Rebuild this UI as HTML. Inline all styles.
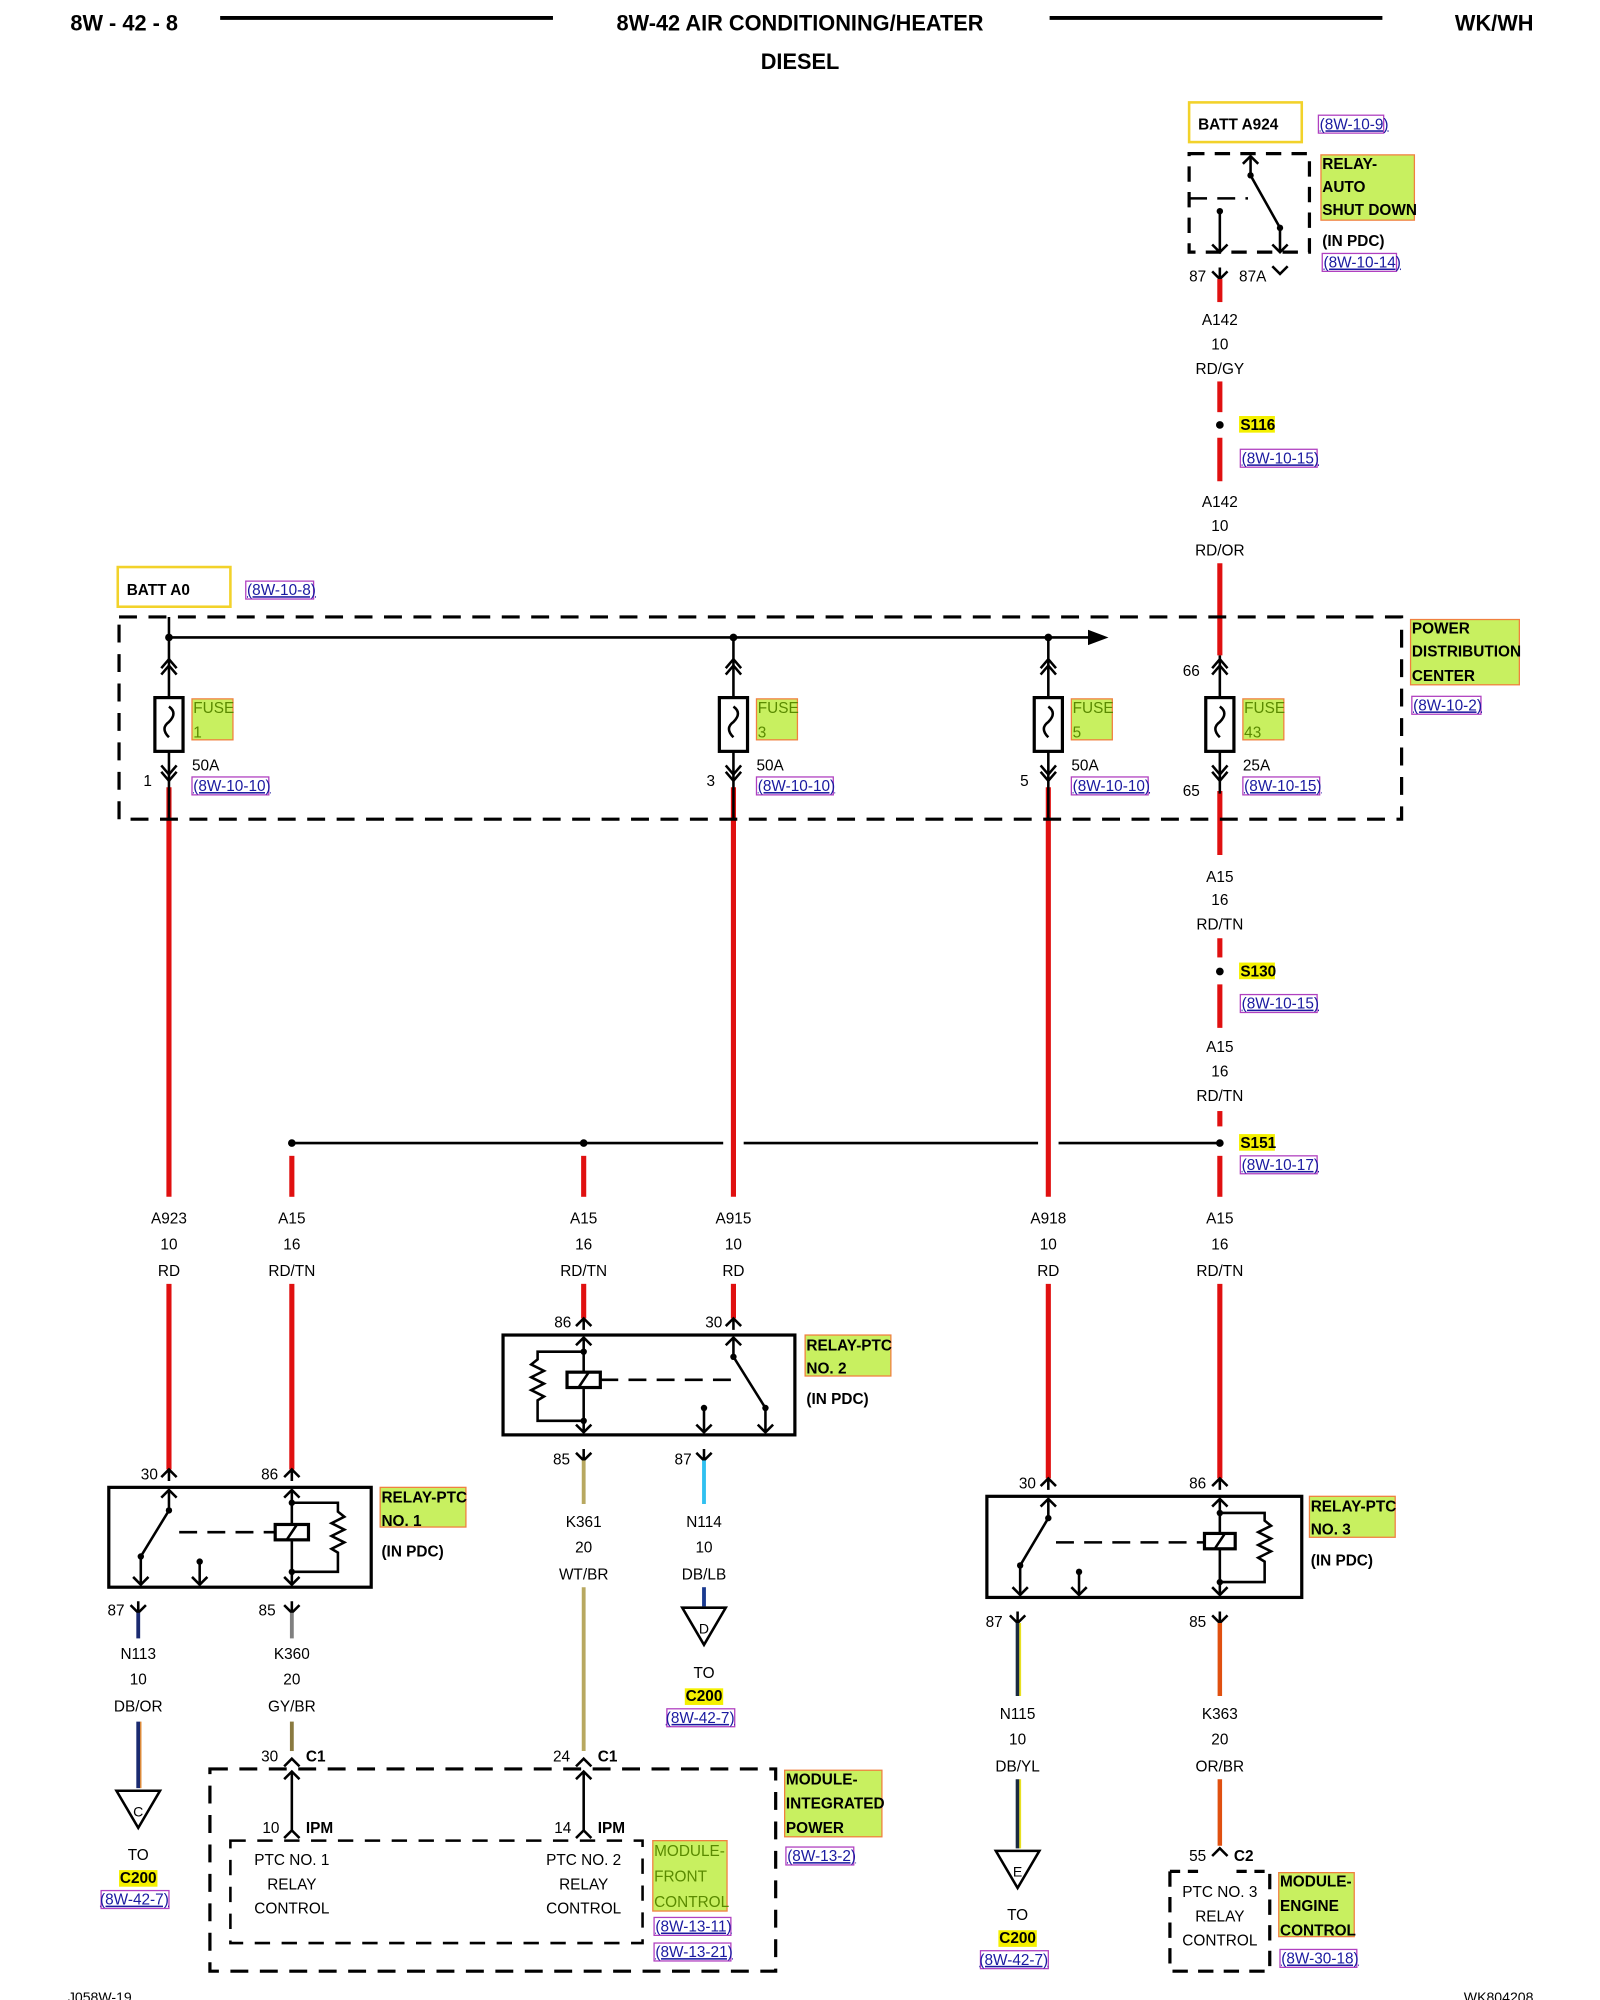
<!DOCTYPE html>
<html><head><meta charset="utf-8"><style>
html,body{margin:0;padding:0;background:#fff;}
svg{display:block}
text{font-family:"Liberation Sans",sans-serif;font-size:12px;fill:#000}
.b{font-weight:bold}
.c{text-anchor:middle}
.r{text-anchor:end}
.ref{fill:#1a1aa0;text-decoration:underline}
.fz{fill:#5a8a00}
</style></head><body>
<svg width="1600" height="2000" viewBox="0 0 1250 1562.5" xmlns="http://www.w3.org/2000/svg">
<defs>
<path id="fu" d="M-6,6 L0,0 L6,6 M0,0 V9" fill="none" stroke="#000" stroke-width="2"/>
<path id="md" d="M-6,-6 L0,0 L6,-6 M0,0 V-9" fill="none" stroke="#000" stroke-width="2"/>
<path id="dup" d="M-6,5 L0,-2 L6,5 M-6,10 L0,3 L6,10" fill="none" stroke="#000" stroke-width="2"/>
<path id="ddn" d="M-6,-5 L0,2 L6,-5 M-6,-10 L0,-3 L6,-10" fill="none" stroke="#000" stroke-width="2"/>
<path id="au" d="M-6,6 L0,0 L6,6" fill="none" stroke="#000" stroke-width="2"/>
<path id="ad" d="M-6,-6 L0,0 L6,-6" fill="none" stroke="#000" stroke-width="2"/>
</defs>

<!-- header -->
<text x="55" y="24" class="b" style="font-size:17px">8W - 42 - 8</text>
<line x1="172" y1="14" x2="432" y2="14" stroke="#000" stroke-width="3"/>
<text x="625" y="24" class="b c" style="font-size:17px">8W-42 AIR CONDITIONING/HEATER</text>
<text x="625" y="54" class="b c" style="font-size:17px">DIESEL</text>
<line x1="820" y1="14" x2="1080" y2="14" stroke="#000" stroke-width="3"/>
<text x="1198" y="24" class="b r" style="font-size:17px">WK/WH</text>

<!-- ASD relay -->
<rect x="929" y="80" width="88" height="31" fill="none" stroke="#f2d22a" stroke-width="2"/>
<text x="936" y="101" class="b">BATT A924</text>
<rect x="1030" y="90" width="51" height="14" fill="none" stroke="#b040c0"/>
<text x="1031" y="101" class="ref">(8W-10-9)</text>
<rect x="929" y="120" width="94" height="77" fill="none" stroke="#000" stroke-width="2.5" stroke-dasharray="12,8"/>
<line x1="929" y1="155" x2="975" y2="155" stroke="#000" stroke-width="2" stroke-dasharray="14,8"/>
<path d="M977,122 V137 L1000,178 V197 M953,165 V197" fill="none" stroke="#000" stroke-width="2"/>
<use href="#au" x="977" y="122"/><use href="#ad" x="953" y="197"/><use href="#ad" x="1000" y="197"/>
<circle cx="977" cy="137" r="2.5"/><circle cx="1000" cy="178" r="2.5"/><circle cx="953" cy="165" r="2.5"/>
<rect x="1032" y="121" width="73" height="51" fill="#c8f060" stroke="#f08040"/>
<text x="1033" y="132" class="b">RELAY-</text><text x="1033" y="150" class="b">AUTO</text><text x="1033" y="168" class="b">SHUT DOWN</text>
<text x="1033" y="192" class="b">(IN PDC)</text>
<rect x="1033" y="198" width="58" height="14" fill="none" stroke="#b040c0"/>
<text x="1034" y="209" class="ref">(8W-10-14)</text>
<text x="929" y="220">87</text><use href="#md" x="953" y="218"/>
<text x="968" y="220">87A</text><use href="#ad" x="1000" y="214"/>

<!-- top right wire -->
<g stroke="#e01010" stroke-width="4">
<line x1="953" y1="218" x2="953" y2="236"/><line x1="953" y1="298" x2="953" y2="322"/><line x1="953" y1="342" x2="953" y2="376"/><line x1="953" y1="440" x2="953" y2="512"/>
<line x1="953" y1="618" x2="953" y2="668"/><line x1="953" y1="733" x2="953" y2="748"/><line x1="953" y1="769" x2="953" y2="803"/><line x1="953" y1="868" x2="953" y2="880"/><line x1="953" y1="1003" x2="953" y2="1155"/>
<line x1="132" y1="615" x2="132" y2="935"/><line x1="573" y1="615" x2="573" y2="935"/><line x1="819" y1="615" x2="819" y2="935"/>
<line x1="228" y1="903" x2="228" y2="935"/><line x1="456" y1="903" x2="456" y2="935"/><line x1="953" y1="903" x2="953" y2="935"/>
<line x1="132" y1="1003" x2="132" y2="1148"/><line x1="228" y1="1003" x2="228" y2="1148"/><line x1="456" y1="1003" x2="456" y2="1030"/><line x1="573" y1="1003" x2="573" y2="1030"/><line x1="819" y1="1003" x2="819" y2="1155"/>
</g>
<g class="c">
<text x="953" y="254" class="c">A142</text><text x="953" y="273" class="c">10</text><text x="953" y="292" class="c">RD/GY</text>
<text x="953" y="396" class="c">A142</text><text x="953" y="415" class="c">10</text><text x="953" y="434" class="c">RD/OR</text>
<text x="953" y="689" class="c">A15</text><text x="953" y="707" class="c">16</text><text x="953" y="726" class="c">RD/TN</text>
<text x="953" y="822" class="c">A15</text><text x="953" y="841" class="c">16</text><text x="953" y="860" class="c">RD/TN</text>
</g>
<circle cx="953" cy="332" r="3"/><rect x="968" y="325" width="28" height="13" fill="#f4f000"/><text x="969" y="336" class="b">S116</text>
<rect x="969" y="351" width="60" height="14" fill="none" stroke="#b040c0"/><text x="970" y="362" class="ref">(8W-10-15)</text>
<circle cx="953" cy="759" r="3"/><rect x="968" y="752" width="28" height="13" fill="#f4f000"/><text x="969" y="763" class="b">S130</text>
<rect x="969" y="777" width="60" height="14" fill="none" stroke="#b040c0"/><text x="970" y="788" class="ref">(8W-10-15)</text>
<circle cx="953" cy="893" r="3"/><rect x="968" y="886" width="28" height="13" fill="#f4f000"/><text x="969" y="897" class="b">S151</text>
<rect x="969" y="903" width="60" height="14" fill="none" stroke="#b040c0"/><text x="970" y="914" class="ref">(8W-10-17)</text>

<!-- horizontal splice line -->
<path d="M228,893 H565 M581,893 H811 M827,893 H953" stroke="#000" stroke-width="2"/>
<circle cx="228" cy="893" r="3"/><circle cx="456" cy="893" r="3"/>

<!-- PDC -->
<rect x="92" y="443" width="88" height="31" fill="none" stroke="#f2d22a" stroke-width="2"/>
<text x="99" y="465" class="b">BATT A0</text>
<rect x="192" y="454" width="53" height="14" fill="none" stroke="#b040c0"/><text x="193" y="465" class="ref">(8W-10-8)</text>
<rect x="93" y="482" width="1002" height="158" fill="none" stroke="#000" stroke-width="2.5" stroke-dasharray="14,9"/>
<line x1="132" y1="498" x2="852" y2="498" stroke="#000" stroke-width="2"/>
<path d="M850,492 L866,498 L850,504 Z"/>
<circle cx="132" cy="498" r="3"/><circle cx="573" cy="498" r="3"/><circle cx="819" cy="498" r="3"/>
<g stroke="#000" stroke-width="2" fill="none">
<path d="M132,482 V545 M132,587 V640"/><path d="M573,498 V545 M573,587 V640"/><path d="M819,498 V545 M819,587 V640"/><path d="M953,512 V545 M953,587 V620"/>
<rect x="121" y="545" width="22" height="42" stroke-width="2.5"/><rect x="562" y="545" width="22" height="42" stroke-width="2.5"/><rect x="808" y="545" width="22" height="42" stroke-width="2.5"/><rect x="942" y="545" width="22" height="42" stroke-width="2.5"/>
<path d="M132,552 q7,5 0,12 q-7,5 0,12"/><path d="M573,552 q7,5 0,12 q-7,5 0,12"/><path d="M819,552 q7,5 0,12 q-7,5 0,12"/><path d="M953,552 q7,5 0,12 q-7,5 0,12"/>
</g>
<use href="#dup" x="132" y="517"/><use href="#dup" x="573" y="517"/><use href="#dup" x="819" y="517"/><use href="#dup" x="953" y="517"/>
<use href="#ddn" x="132" y="608"/><use href="#ddn" x="573" y="608"/><use href="#ddn" x="819" y="608"/><use href="#ddn" x="953" y="608"/>
<text x="112" y="614">1</text><text x="552" y="614">3</text><text x="797" y="614">5</text><text x="924" y="528">66</text><text x="924" y="622">65</text>
<g>
<rect x="150" y="546" width="32" height="32" fill="#c8f060" stroke="#f08040"/><text x="151" y="557" class="fz">FUSE</text><text x="151" y="576" class="fz">1</text>
<rect x="591" y="546" width="32" height="32" fill="#c8f060" stroke="#f08040"/><text x="592" y="557" class="fz">FUSE</text><text x="592" y="576" class="fz">3</text>
<rect x="837" y="546" width="32" height="32" fill="#c8f060" stroke="#f08040"/><text x="838" y="557" class="fz">FUSE</text><text x="838" y="576" class="fz">5</text>
<rect x="971" y="546" width="32" height="32" fill="#c8f060" stroke="#f08040"/><text x="972" y="557" class="fz">FUSE</text><text x="972" y="576" class="fz">43</text>
</g>
<text x="150" y="602">50A</text><text x="591" y="602">50A</text><text x="837" y="602">50A</text><text x="971" y="602">25A</text>
<rect x="150" y="607" width="60" height="14" fill="none" stroke="#b040c0"/><text x="151" y="618" class="ref">(8W-10-10)</text>
<rect x="591" y="607" width="60" height="14" fill="none" stroke="#b040c0"/><text x="592" y="618" class="ref">(8W-10-10)</text>
<rect x="837" y="607" width="60" height="14" fill="none" stroke="#b040c0"/><text x="838" y="618" class="ref">(8W-10-10)</text>
<rect x="971" y="607" width="60" height="14" fill="none" stroke="#b040c0"/><text x="972" y="618" class="ref">(8W-10-15)</text>
<rect x="1102" y="484" width="85" height="51" fill="#c8f060" stroke="#f08040"/>
<text x="1103" y="495" class="b">POWER</text><text x="1103" y="513" class="b">DISTRIBUTION</text><text x="1103" y="532" class="b">CENTER</text>
<rect x="1103" y="544" width="54" height="14" fill="none" stroke="#b040c0"/><text x="1104" y="555" class="ref">(8W-10-2)</text>

<!-- wire labels row -->
<g>
<text x="132" y="956" class="c">A923</text><text x="132" y="976" class="c">10</text><text x="132" y="997" class="c">RD</text>
<text x="228" y="956" class="c">A15</text><text x="228" y="976" class="c">16</text><text x="228" y="997" class="c">RD/TN</text>
<text x="456" y="956" class="c">A15</text><text x="456" y="976" class="c">16</text><text x="456" y="997" class="c">RD/TN</text>
<text x="573" y="956" class="c">A915</text><text x="573" y="976" class="c">10</text><text x="573" y="997" class="c">RD</text>
<text x="819" y="956" class="c">A918</text><text x="819" y="976" class="c">10</text><text x="819" y="997" class="c">RD</text>
<text x="953" y="956" class="c">A15</text><text x="953" y="976" class="c">16</text><text x="953" y="997" class="c">RD/TN</text>
</g>

<!-- PTC2 relay -->
<rect x="393" y="1043" width="228" height="78" fill="none" stroke="#000" stroke-width="2.5"/>
<use href="#fu" x="456" y="1030"/><use href="#fu" x="573" y="1030"/><text x="433" y="1037">86</text><text x="551" y="1037">30</text>
<g stroke="#000" stroke-width="2" fill="none">
<path d="M456,1045 V1072 M456,1084 V1119"/><rect x="443" y="1072" width="26" height="12" stroke-width="2.5"/><path d="M452,1084 L460,1072"/>
<path d="M456,1056 H420 V1062 l-5,4 l10,5 l-10,5 l10,5 l-10,5 l10,5 l-5,3 V1110 H456"/>
<path d="M469,1078 H572" stroke-dasharray="14,8"/>
<path d="M573,1045 V1060 L598,1100 V1119 M550,1100 V1119"/>
</g>
<use href="#au" x="456" y="1045"/><use href="#au" x="573" y="1045"/><use href="#ad" x="456" y="1119"/><use href="#ad" x="550" y="1119"/><use href="#ad" x="598" y="1119"/>
<circle cx="456" cy="1056" r="2.5"/><circle cx="456" cy="1110" r="2.5"/><circle cx="573" cy="1060" r="2.5"/><circle cx="598" cy="1100" r="2.5"/><circle cx="550" cy="1100" r="2.5"/>
<rect x="629" y="1043" width="67" height="32" fill="#c8f060" stroke="#f08040"/><text x="630" y="1055" class="b">RELAY-PTC</text><text x="630" y="1073" class="b">NO. 2</text>
<text x="630" y="1097" class="b">(IN PDC)</text>
<text x="432" y="1144">85</text><use href="#md" x="456" y="1141"/><text x="527" y="1144">87</text><use href="#md" x="550" y="1141"/>
<line x1="456" y1="1141" x2="456" y2="1175" stroke="#b8a860" stroke-width="3"/><line x1="456" y1="1240" x2="456" y2="1368" stroke="#b8a860" stroke-width="3"/>
<line x1="550" y1="1141" x2="550" y2="1175" stroke="#30c0f0" stroke-width="3"/><line x1="550" y1="1240" x2="550" y2="1255" stroke="#1a3a90" stroke-width="3"/>
<text x="456" y="1193" class="c">K361</text><text x="456" y="1213" class="c">20</text><text x="456" y="1234" class="c">WT/BR</text>
<text x="550" y="1193" class="c">N114</text><text x="550" y="1213" class="c">10</text><text x="550" y="1234" class="c">DB/LB</text>
<path d="M533,1256 H567 L550,1285 Z" fill="none" stroke="#000" stroke-width="2"/><text x="550" y="1276" class="c" style="font-size:11px">D</text>
<text x="550" y="1311" class="c">TO</text><rect x="535" y="1319" width="30" height="13" fill="#f4f000"/><text x="550" y="1329" class="c b">C200</text>
<rect x="521" y="1335" width="53" height="14" fill="none" stroke="#b040c0"/><text x="547" y="1346" class="c ref">(8W-42-7)</text>

<!-- PTC1 relay -->
<rect x="85" y="1162" width="205" height="78" fill="none" stroke="#000" stroke-width="2.5"/>
<use href="#fu" x="132" y="1148"/><use href="#fu" x="228" y="1148"/><text x="110" y="1156">30</text><text x="204" y="1156">86</text>
<g stroke="#000" stroke-width="2" fill="none">
<path d="M228,1164 V1191 M228,1203 V1238"/><rect x="215" y="1191" width="26" height="12" stroke-width="2.5"/><path d="M224,1203 L232,1191"/>
<path d="M228,1174 H264 V1181 l5,4 l-10,5 l10,5 l-10,5 l10,5 l-10,5 l5,3 V1228 H228"/>
<path d="M140,1197 H215" stroke-dasharray="14,8"/>
<path d="M132,1164 V1180 L110,1216 V1238 M156,1220 V1238"/>
</g>
<use href="#au" x="228" y="1164"/><use href="#au" x="132" y="1164"/><use href="#ad" x="228" y="1238"/><use href="#ad" x="110" y="1238"/><use href="#ad" x="156" y="1238"/>
<circle cx="228" cy="1174" r="2.5"/><circle cx="228" cy="1228" r="2.5"/><circle cx="132" cy="1180" r="2.5"/><circle cx="110" cy="1216" r="2.5"/><circle cx="156" cy="1220" r="2.5"/>
<rect x="297" y="1162" width="67" height="31" fill="#c8f060" stroke="#f08040"/><text x="298" y="1174" class="b">RELAY-PTC</text><text x="298" y="1192" class="b">NO. 1</text>
<text x="298" y="1216" class="b">(IN PDC)</text>
<text x="84" y="1262">87</text><use href="#md" x="108" y="1260"/><text x="202" y="1262">85</text><use href="#md" x="228" y="1260"/>
<line x1="108" y1="1260" x2="108" y2="1280" stroke="#1a2a70" stroke-width="3"/><line x1="108" y1="1345" x2="108" y2="1397" stroke="#1a2a70" stroke-width="3"/><line x1="110" y1="1345" x2="110" y2="1397" stroke="#e08020" stroke-width="1"/>
<line x1="228" y1="1260" x2="228" y2="1280" stroke="#808080" stroke-width="3"/><line x1="228" y1="1345" x2="228" y2="1368" stroke="#8a7a40" stroke-width="3"/>
<text x="108" y="1296" class="c">N113</text><text x="108" y="1316" class="c">10</text><text x="108" y="1337" class="c">DB/OR</text>
<text x="228" y="1296" class="c">K360</text><text x="228" y="1316" class="c">20</text><text x="228" y="1337" class="c">GY/BR</text>
<path d="M91,1399 H125 L108,1428 Z" fill="none" stroke="#000" stroke-width="2"/><text x="108" y="1419" class="c" style="font-size:11px">C</text>
<text x="108" y="1453" class="c">TO</text><rect x="93" y="1461" width="30" height="13" fill="#f4f000"/><text x="108" y="1471" class="c b">C200</text>
<rect x="79" y="1477" width="53" height="14" fill="none" stroke="#b040c0"/><text x="105" y="1488" class="c ref">(8W-42-7)</text>

<!-- IPM -->
<rect x="164" y="1382" width="442" height="158" fill="none" stroke="#000" stroke-width="2.5" stroke-dasharray="14,9"/>
<use href="#au" x="228" y="1374"/><use href="#au" x="456" y="1374"/>
<text x="204" y="1376">30</text><text x="239" y="1376" class="b">C1</text><text x="432" y="1376">24</text><text x="467" y="1376" class="b">C1</text>
<path d="M228,1384 V1430 M456,1384 V1430" stroke="#000" stroke-width="2"/>
<use href="#au" x="228" y="1384"/><use href="#au" x="456" y="1384"/>
<use href="#au" x="228" y="1430"/><use href="#au" x="456" y="1430"/>
<text x="205" y="1432">10</text><text x="239" y="1432" class="b">IPM</text><text x="433" y="1432">14</text><text x="467" y="1432" class="b">IPM</text>
<rect x="180" y="1438" width="322" height="80" fill="none" stroke="#000" stroke-width="2" stroke-dasharray="12,9"/>
<text x="228" y="1457" class="c">PTC NO. 1</text><text x="228" y="1476" class="c">RELAY</text><text x="228" y="1495" class="c">CONTROL</text>
<text x="456" y="1457" class="c">PTC NO. 2</text><text x="456" y="1476" class="c">RELAY</text><text x="456" y="1495" class="c">CONTROL</text>
<rect x="510" y="1438" width="58" height="55" fill="#c8f060" stroke="#f08040"/><text x="511" y="1450" class="fz">MODULE-</text><text x="511" y="1470" class="fz">FRONT</text><text x="511" y="1490" class="fz">CONTROL</text>
<rect x="511" y="1498" width="60" height="14" fill="none" stroke="#b040c0"/><text x="512" y="1509" class="ref">(8W-13-11)</text>
<rect x="511" y="1518" width="60" height="14" fill="none" stroke="#b040c0"/><text x="512" y="1529" class="ref">(8W-13-21)</text>
<rect x="613" y="1383" width="76" height="52" fill="#c8f060" stroke="#f08040"/><text x="614" y="1394" class="b">MODULE-</text><text x="614" y="1413" class="b">INTEGRATED</text><text x="614" y="1432" class="b">POWER</text>
<rect x="614" y="1443" width="53" height="14" fill="none" stroke="#b040c0"/><text x="615" y="1454" class="ref">(8W-13-2)</text>

<!-- PTC3 relay -->
<rect x="771" y="1169" width="246" height="79" fill="none" stroke="#000" stroke-width="2.5"/>
<use href="#fu" x="819" y="1155"/><use href="#fu" x="953" y="1155"/><text x="796" y="1163">30</text><text x="929" y="1163">86</text>
<g stroke="#000" stroke-width="2" fill="none">
<path d="M953,1171 V1198 M953,1210 V1246"/><rect x="941" y="1198" width="24" height="12" stroke-width="2.5"/><path d="M949,1210 L957,1198"/>
<path d="M953,1182 H988 V1188 l5,4 l-10,5 l10,5 l-10,5 l10,5 l-10,5 l5,3 V1236 H953"/>
<path d="M825,1205 H941" stroke-dasharray="14,8"/>
<path d="M819,1171 V1186 L797,1223 V1246 M843,1228 V1246"/>
</g>
<use href="#au" x="953" y="1171"/><use href="#au" x="819" y="1171"/><use href="#ad" x="953" y="1246"/><use href="#ad" x="797" y="1246"/><use href="#ad" x="843" y="1246"/>
<circle cx="953" cy="1182" r="2.5"/><circle cx="953" cy="1236" r="2.5"/><circle cx="819" cy="1186" r="2.5"/><circle cx="797" cy="1223" r="2.5"/><circle cx="843" cy="1228" r="2.5"/>
<rect x="1023" y="1169" width="67" height="32" fill="#c8f060" stroke="#f08040"/><text x="1024" y="1181" class="b">RELAY-PTC</text><text x="1024" y="1199" class="b">NO. 3</text>
<text x="1024" y="1223" class="b">(IN PDC)</text>
<text x="770" y="1271">87</text><use href="#md" x="795" y="1268"/><text x="929" y="1271">85</text><use href="#md" x="953" y="1268"/>
<line x1="795" y1="1268" x2="795" y2="1325" stroke="#1a2a40" stroke-width="3"/><line x1="797" y1="1268" x2="797" y2="1325" stroke="#e8e020" stroke-width="1.5"/>
<line x1="795" y1="1390" x2="795" y2="1444" stroke="#1a2a40" stroke-width="3"/><line x1="797" y1="1390" x2="797" y2="1444" stroke="#e8e020" stroke-width="1.5"/>
<line x1="953" y1="1268" x2="953" y2="1325" stroke="#e05010" stroke-width="3.5"/><line x1="953" y1="1390" x2="953" y2="1442" stroke="#e05010" stroke-width="3.5"/>
<text x="795" y="1343" class="c">N115</text><text x="795" y="1363" class="c">10</text><text x="795" y="1384" class="c">DB/YL</text>
<text x="953" y="1343" class="c">K363</text><text x="953" y="1363" class="c">20</text><text x="953" y="1384" class="c">OR/BR</text>
<path d="M778,1446 H812 L795,1475 Z" fill="none" stroke="#000" stroke-width="2"/><text x="795" y="1466" class="c" style="font-size:11px">E</text>
<text x="795" y="1500" class="c">TO</text><rect x="780" y="1508" width="30" height="13" fill="#f4f000"/><text x="795" y="1518" class="c b">C200</text>
<rect x="766" y="1524" width="53" height="14" fill="none" stroke="#b040c0"/><text x="792" y="1535" class="c ref">(8W-42-7)</text>
<use href="#au" x="953" y="1444"/><text x="929" y="1454">55</text><text x="964" y="1454" class="b">C2</text>
<path d="M914,1462 V1540 H992 V1462" fill="none" stroke="#000" stroke-width="2.5" stroke-dasharray="12,8"/>
<path d="M914,1462 H940 M966,1462 H992" fill="none" stroke="#000" stroke-width="2.5" stroke-dasharray="8,6"/>
<text x="953" y="1482" class="c">PTC NO. 3</text><text x="953" y="1501" class="c">RELAY</text><text x="953" y="1520" class="c">CONTROL</text>
<rect x="999" y="1463" width="59" height="50" fill="#c8f060" stroke="#f08040"/><text x="1000" y="1474" class="b">MODULE-</text><text x="1000" y="1493" class="b">ENGINE</text><text x="1000" y="1512" class="b">CONTROL</text>
<rect x="1000" y="1523" width="60" height="14" fill="none" stroke="#b040c0"/><text x="1001" y="1534" class="ref">(8W-30-18)</text>

<!-- footer -->
<text x="53" y="1564" style="font-size:11px">J058W-19</text>
<text x="1198" y="1564" class="r" style="font-size:11px">WK804208</text>
</svg>
</body></html>
